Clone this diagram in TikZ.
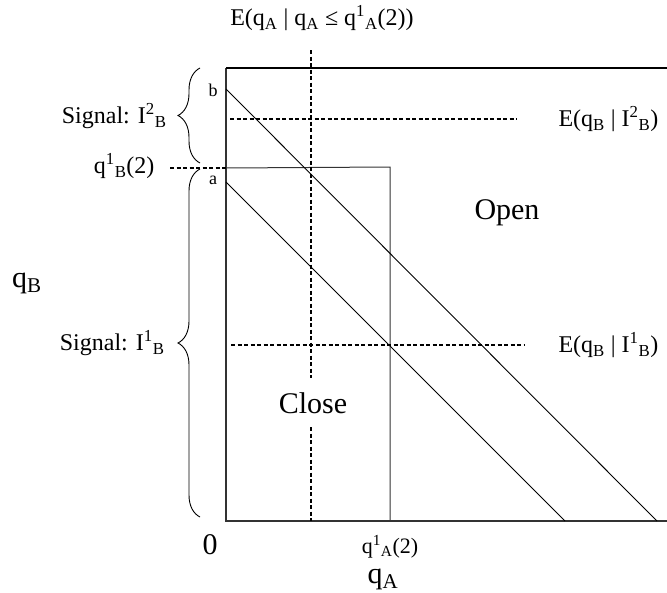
\documentclass[tikz,border=0pt]{standalone}
\usepackage{fontspec}
\setmainfont{Liberation Serif}
\usetikzlibrary{decorations.pathreplacing, calc}
\tikzset{
  axisline/.style={line width=1.4pt, black!80},
  guideline/.style={line width=1.3pt, dash pattern=on 4pt off 2.5pt},
  isoline/.style={line width=0.9pt},
  sigbrace/.style={decorate, decoration={brace, amplitude=22pt}, line width=0.9pt},
  smalltext/.style={font=\fontsize{18}{22}\selectfont},
  ticktext/.style={font=\fontsize{22}{26}\selectfont},
  midtext/.style={font=\fontsize{24}{28}\selectfont},
  bigtext/.style={font=\fontsize{30}{34}\selectfont},
}
\newcommand{\supsub}[2]{\textsuperscript{#1}\textsubscript{#2}}

\begin{document}
\begin{tikzpicture}[x=1pt, y=-1pt]
    \useasboundingbox (0,0) rectangle (667,592);

    % Axes
    \coordinate (O) at (226,521);
    \coordinate (topL) at (226,68);
    \draw[axisline] (topL) -- (O) -- (667,521);
    \draw[line width=2pt] (topL) -- (667,68);

    % Close region
    \coordinate (qBcut) at (226,168);
    \coordinate (qAcut) at (390,521);
    \draw[line width=1pt, black!80] (qBcut) -- (390,167) -- (qAcut);

    % Lines through a and b
    \coordinate (b) at (226,89);
    \coordinate (a) at (226,182);
    \draw[isoline] (b) -- (657,521);
    \draw[isoline] (a) -- (565,521);

    % Dashed guides
    \draw[guideline] (170,168) -- (qBcut);
    \draw[guideline] (311,50) -- (311,378);
    \draw[guideline] (311,427) -- (311,521);
    \draw[guideline] (230,119) -- (517,119);
    \draw[guideline] (231,345) -- (524,345);

    % Signal braces
    \draw[sigbrace] (200,163) -- (200,68);
    \draw[sigbrace] (200,517) -- (200,169);

    % Labels
    \node[midtext] (condA) at (322,18) {E(q\textsubscript{A} | q\textsubscript{A} ≤ q\supsub{1}{A}(2))};
    \node[smalltext] (lblb) at (213,90) {b};
    \node[smalltext] (lbla) at (213,180) {a};
    \node[midtext, anchor=east] (qBtick) at (158,166) {q\supsub{1}{B}(2)};
    \node[midtext, anchor=east] (sig2) at (170,116) {Signal: I\supsub{2}{B}};
    \node[midtext, anchor=east] (sig1) at (168,343) {Signal: I\supsub{1}{B}};
    \node[midtext, anchor=west] (EB2) at (555,119) {E(q\textsubscript{B} | I\supsub{2}{B})};
    \node[midtext, anchor=west] (EB1) at (555,345) {E(q\textsubscript{B} | I\supsub{1}{B})};
    \node[bigtext] (qBaxis) at (27,283) {q\textsubscript{B}};
    \node[bigtext, inner sep=0pt] (qAaxis) at (383,579) {q\textsubscript{A}};
    \node[bigtext] (zero) at (210,545) {0};
    \node[ticktext, inner sep=0pt] (qAtick) at (390,547) {q\supsub{1}{A}(2)};
    \node[bigtext] (open) at (507,213) {Open};
    \node[bigtext] (close) at (313,403) {Close};
\end{tikzpicture}
\end{document}
